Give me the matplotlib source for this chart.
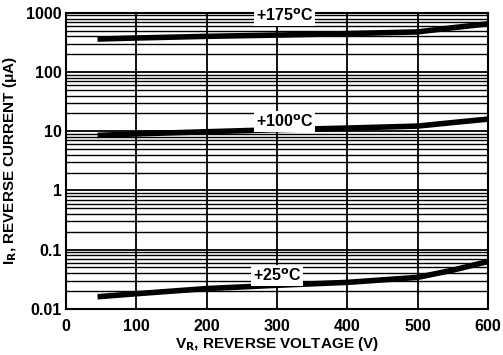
import matplotlib.pyplot as plt
import numpy as np

plt.rcParams['font.family'] = ['Liberation Sans', 'DejaVu Sans']

# reverse voltage (V) and reverse current (uA)
v_175 = [45, 100, 200, 300, 400, 500, 550, 600]
i_175 = [360, 375, 400, 420, 445, 475, 560, 650]

v_100 = [45, 100, 200, 300, 400, 500, 550, 600]
i_100 = [8.5, 9.0, 9.8, 10.6, 11.3, 12.2, 14.0, 16.0]

v_25 = [45, 100, 200, 300, 400, 500, 550, 600]
i_25 = [0.016, 0.018, 0.022, 0.025, 0.028, 0.034, 0.045, 0.063]

curve_labels = ['+175$^{\\mathbf{o}}$C', '+100$^{\\mathbf{o}}$C', '+25$^{\\mathbf{o}}$C']
label_pos = [(311, 880), (311, 14.5), (300, 0.037)]

xticks = [0, 100, 200, 300, 400, 500, 600]
yticks = [0.01, 0.1, 1, 10, 100, 1000]
yticklabels = ['0.01', '0.1', '1', '10', '100', '1000']

fig = plt.figure(figsize=(5.03, 3.55), dpi=100)
ax = fig.add_axes([0.131, 0.130, 0.839, 0.834])

ax.set_yscale('log')
ax.set_xlim(0, 600)
ax.set_ylim(0.01, 1000)

# grid: major vertical lines, every log minor on y
ax.set_xticks(xticks)
ax.set_yticks(yticks)
ax.set_yticklabels(yticklabels)
ax.grid(True, which='major', color='black', linewidth=1.3)
ax.grid(True, which='minor', axis='y', color='black', linewidth=1.0)
ax.tick_params(which='both', length=0)
ax.tick_params(axis='y', pad=3)
ax.tick_params(axis='x', pad=7)
for lab in ax.get_xticklabels() + ax.get_yticklabels():
    lab.set_fontweight('bold')
    lab.set_fontsize(11.5)

for s in ax.spines.values():
    s.set_linewidth(1.5)

ax.plot(v_175, i_175, color='black', linewidth=4, solid_capstyle='butt')
ax.plot(v_100, i_100, color='black', linewidth=4, solid_capstyle='butt')
ax.plot(v_25, i_25, color='black', linewidth=4, solid_capstyle='butt')

for txt, (x, y) in zip(curve_labels, label_pos):
    ax.text(x, y, txt, ha='center', va='center', fontsize=11.5, fontweight='bold',
            bbox=dict(facecolor='white', edgecolor='none', pad=1.5))

ax.set_xlabel('V$_{\\mathbf{R}}$, REVERSE VOLTAGE (V)', fontsize=11, fontweight='bold', labelpad=1)
ax.set_ylabel('I$_{\\mathbf{R}}$, REVERSE CURRENT (\u03bcA)', fontsize=11, fontweight='bold', labelpad=5)

fig.savefig('out.png', dpi=100)
